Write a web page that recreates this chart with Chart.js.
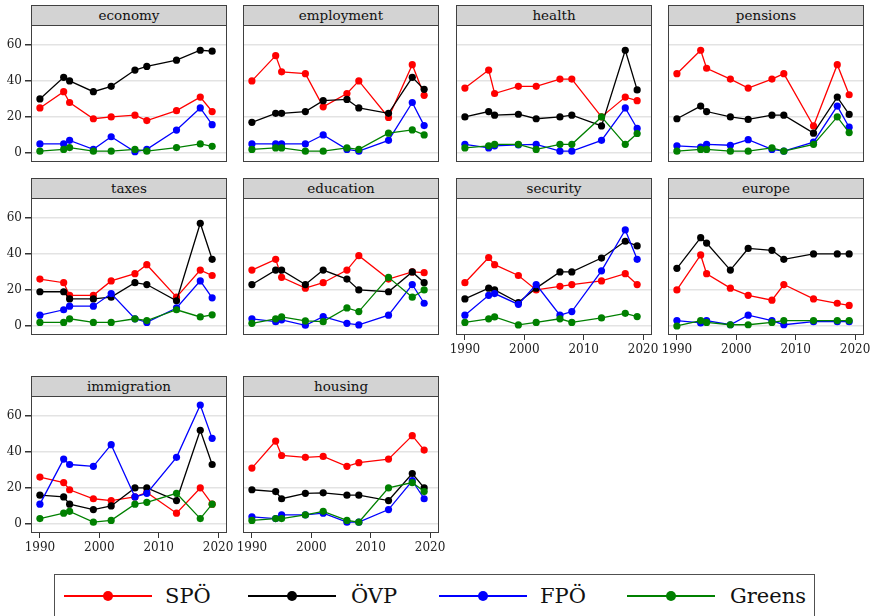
<!DOCTYPE html>
<html>
<head>
<meta charset="utf-8">
<script src="https://cdn.jsdelivr.net/npm/chart.js@4/dist/chart.umd.min.js"></script>
<style>
  html, body { margin: 0; padding: 0; background: #fff; width: 872px; height: 616px; overflow: hidden; }
  #page { position: relative; width: 872px; height: 616px; font-family: "DejaVu Serif", serif; }
  #page canvas { position: absolute; }
  .strip { position: absolute; box-sizing: border-box; height: 21px; background: #d3d3d3; border: 1px solid #404040;
           text-align: center; font-size: 13.5px; line-height: 19px; color: #111; }
  .legend-box { position: absolute; left: 54px; top: 574px; width: 761px; height: 60px; box-sizing: border-box; border: 1px solid #505050; }
  .lg-line { position: absolute; height: 2px; }
  .lg-dot { position: absolute; width: 10px; height: 10px; border-radius: 50%; }
  .lg-text { position: absolute; font-size: 21px; line-height: 25px; color: #111; white-space: nowrap; }
</style>
</head>
<body>
<div id="page"></div>
<script>
// Election years on the x axis
const years = [1990, 1994, 1995, 1999, 2002, 2006, 2008, 2013, 2017, 2019];

// Issue panels, in reading order
const topics = ['economy', 'employment', 'health', 'pensions', 'taxes',
                'education', 'security', 'europe', 'immigration', 'housing'];

// Share (%) per party, one row per topic (same order as `topics`)
const spo = [
  [25, 34, 28, 19, 20, 21, 18, 23.5, 31, 23],
  [40, 54, 45, 44, 25.6, 33, 40, 19.7, 49, 32],
  [36, 46, 33, 37, 37, 41, 41, 20, 31, 29],
  [44, 57, 47, 41, 36, 41, 44, 15, 49, 32.3],
  [26, 24, 17, 17, 25, 29, 34, 16, 31, 28],
  [31, 37, 27, 21, 24, 31, 39, 26, 30, 29.6],
  [24, 38, 34, 28, 20, 22, 23, 25, 29, 23],
  [20, 39.4, 29, 21, 17, 14.3, 23, 15, 12.6, 11.4],
  [26, 23, 19, 14, 13, 15, 17.5, 6, 20, 11],
  [31, 46, 38, 37, 37.5, 32, 34, 36, 49, 41]
];
const ovp = [
  [30, 42, 40, 34, 37, 46, 48, 51.5, 57, 56.5],
  [17, 22, 22, 23, 29, 29.7, 25, 22, 42, 35.3],
  [20, 23, 21, 21.5, 19, 20, 21, 15, 57, 35],
  [19, 26, 23, 20, 18.6, 21, 21, 11, 31, 21.4],
  [19, 19, 15, 15, 16, 24, 23, 14, 57, 37],
  [23, 31, 31, 23, 31, 26, 20, 19, 30, 24],
  [15, 21, 20, 13, 21, 30, 30, 37.7, 47, 44.4],
  [32, 49, 46, 31, 43, 42, 37, 40, 40, 40],
  [16, 15, 11, 8, 10, 20, 20, 13, 52, 33],
  [19, 18, 14, 17, 17.3, 16, 16, 13, 28, 20]
];
const fpo = [
  [5, 5, 7, 2, 9, 0.7, 2, 12.7, 25, 15.7],
  [5, 5, 5, 5, 10, 2, 1, 7, 28, 15.2],
  [4.8, 2.8, 4, 4.5, 4.8, 1, 1, 7, 25, 13.6],
  [4, 3.3, 4.8, 4.3, 7.4, 2, 1, 6, 26, 14.3],
  [6, 9, 11, 11, 18, 4, 2, 10, 25, 15.6],
  [4, 2.4, 3.4, 0.4, 5.2, 1.5, 0.6, 6, 23, 12.6],
  [6, 17, 18, 12, 23, 6, 8, 30.6, 53.3, 37],
  [3, 1.7, 3, 0.7, 6, 3, 0.7, 2.4, 2.4, 2.4],
  [11, 36, 33, 32, 44, 15, 17, 37, 66, 47.5],
  [4, 3, 5, 5, 6, 1, 1, 8, 24, 14]
];
const greens = [
  [1, 2, 3, 1, 1, 2, 1, 3, 5, 3.7],
  [2, 2.8, 2.8, 1, 1, 2.8, 2, 11, 12.8, 10],
  [2.8, 4, 4.8, 4.8, 2, 4.8, 4.8, 20, 4.8, 10.8],
  [1, 2, 2, 1, 1, 2.8, 1, 4.8, 20, 11.3],
  [2, 2, 4, 2, 2, 4, 3, 9, 5, 6.2],
  [1.5, 4, 5, 2.8, 2.4, 10, 8, 27, 16, 20],
  [2, 4, 5, 0.6, 2, 4, 2, 4.5, 7, 5.2],
  [0, 3, 2, 0.7, 0.7, 2, 3, 3, 3, 3],
  [3, 6, 7, 1, 2, 11, 12, 17, 3, 11],
  [2, 3, 3, 5, 7, 2, 1, 20, 23, 18]
];

const parties = ['SPÖ', 'ÖVP', 'FPÖ', 'Greens'];
const partyValues = [spo, ovp, fpo, greens];
const partyColors = ['#ff0000', '#000000', '#0000ff', '#008000'];

const yTickValues = [0, 20, 40, 60];
const xTickValues = [1990, 2000, 2010, 2020];

// Facet geometry
const colLeft = [31, 243, 456, 668];
const rowTop = [25, 197.5, 396];
const plotW = 196, plotH = 137;
const yAxisW = 31, xAxisH = 28, pad = 12;
const FONT = '"DejaVu Serif", serif';

const page = document.getElementById('page');

// Dark frame around each plot region
const framePlugin = {
  id: 'panelFrame',
  afterDraw(chart) {
    const a = chart.chartArea, c = chart.ctx;
    c.save();
    c.strokeStyle = '#404040';
    c.lineWidth = 1;
    c.strokeRect(Math.round(a.left) + 0.5, Math.round(a.top) + 0.5,
                 Math.round(a.right - a.left) - 1, Math.round(a.bottom - a.top) - 1);
    c.restore();
  }
};

topics.forEach((topic, i) => {
  const row = Math.floor(i / 4), col = i % 4;
  const left = colLeft[col], top = rowTop[row];
  const showY = col === 0;
  const showX = i >= 6;

  const strip = document.createElement('div');
  strip.className = 'strip';
  strip.style.left = left + 'px';
  strip.style.top = (top - 20) + 'px';
  strip.style.width = plotW + 'px';
  strip.textContent = topic;

  const cv = document.createElement('canvas');
  const cw = yAxisW + plotW + pad, ch = pad + plotH + xAxisH;
  cv.width = cw; cv.height = ch;
  cv.style.width = cw + 'px'; cv.style.height = ch + 'px';
  cv.style.left = (left - yAxisW) + 'px';
  cv.style.top = (top - pad) + 'px';
  page.appendChild(cv);
  page.appendChild(strip);

  const datasets = partyValues.map((vals, k) => ({
    label: parties[k],
    data: years.map((yr, j) => ({ x: yr, y: vals[i][j] })),
    borderColor: partyColors[k],
    backgroundColor: partyColors[k],
    pointBackgroundColor: partyColors[k],
    pointBorderWidth: 0,
    pointRadius: 3.6,
    borderWidth: 1.3,
    tension: 0,
    fill: false,
    order: 3 - k
  }));

  new Chart(cv, {
    type: 'line',
    data: { datasets },
    options: {
      responsive: false,
      animation: false,
      events: [],
      layout: { padding: { top: pad, right: pad, left: 0, bottom: 0 } },
      plugins: { legend: { display: false }, tooltip: { enabled: false } },
      scales: {
        x: {
          type: 'linear', min: 1988.5, max: 2021.5,
          afterBuildTicks: s => { s.ticks = xTickValues.map(v => ({ value: v })); },
          afterFit: s => { s.height = xAxisH; },
          border: { display: false },
          grid: { drawOnChartArea: false, drawTicks: showX, tickLength: 5, tickColor: '#333', color: '#333' },
          ticks: { display: showX, autoSkip: false, maxRotation: 0, padding: 3, color: '#222',
                   font: { family: FONT, size: 12 }, callback: v => String(v) }
        },
        y: {
          min: -5, max: 71,
          afterBuildTicks: s => { s.ticks = yTickValues.map(v => ({ value: v })); },
          afterFit: s => { s.width = yAxisW; },
          border: { display: false },
          grid: { color: '#e3e3e3', lineWidth: 1.5, drawTicks: showY, tickLength: 6, tickColor: '#333' },
          ticks: { display: showY, padding: 3, color: '#222',
                   font: { family: FONT, size: 12 }, callback: v => String(v) }
        }
      }
    },
    plugins: [framePlugin]
  });
});

// Shared legend
const legendBox = document.createElement('div');
legendBox.className = 'legend-box';
page.appendChild(legendBox);
const legendItems = [
  { x1: 64, x2: 152, text: 165 },
  { x1: 248, x2: 336, text: 351 },
  { x1: 439, x2: 527, text: 540 },
  { x1: 627, x2: 715, text: 730 }
];
legendItems.forEach((it, k) => {
  const ln = document.createElement('div');
  ln.className = 'lg-line';
  ln.style.left = it.x1 + 'px'; ln.style.top = '595px';
  ln.style.width = (it.x2 - it.x1) + 'px';
  ln.style.background = partyColors[k];
  const dot = document.createElement('div');
  dot.className = 'lg-dot';
  dot.style.left = ((it.x1 + it.x2) / 2 - 5) + 'px'; dot.style.top = '591px';
  dot.style.background = partyColors[k];
  const tx = document.createElement('span');
  tx.className = 'lg-text';
  tx.style.left = it.text + 'px'; tx.style.top = '584px';
  tx.textContent = parties[k];
  page.appendChild(ln); page.appendChild(dot); page.appendChild(tx);
});
</script>
</body>
</html>
